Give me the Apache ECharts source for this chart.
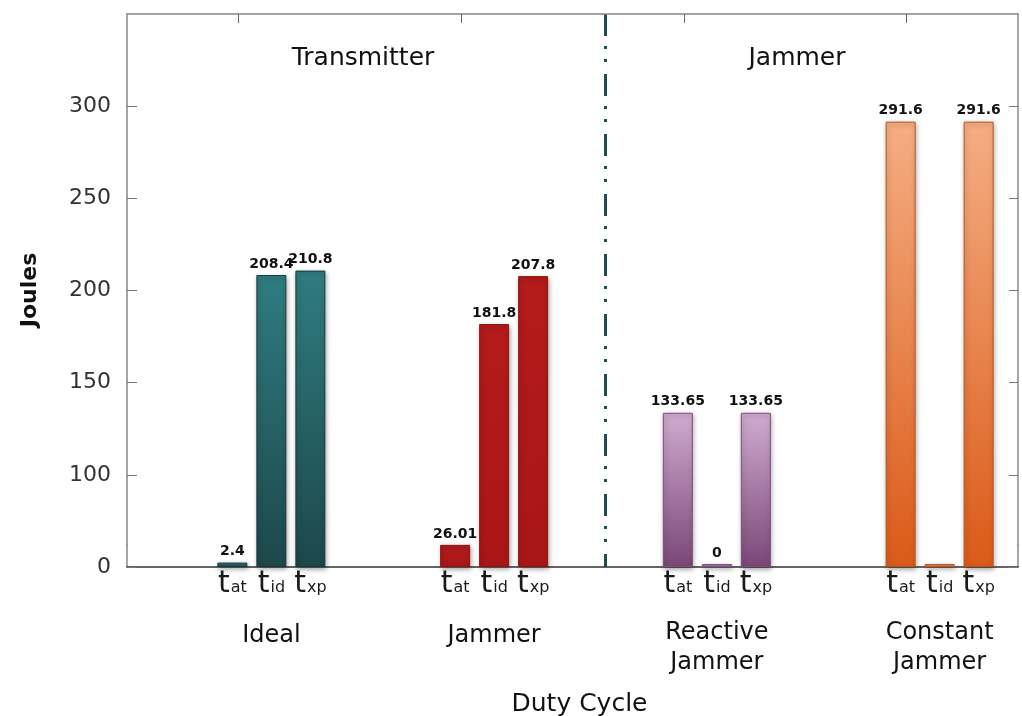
<!DOCTYPE html>
<html>
<head>
<meta charset="utf-8">
<script src="https://cdn.jsdelivr.net/npm/echarts@6/dist/echarts.min.js"></script>
<style>
  html, body { margin: 0; padding: 0; background: #ffffff; }
  #chart { width: 1022px; height: 716px; }
</style>
</head>
<body>
<div id="chart"></div>
<script>
// Energy spent per duty-cycle state (Joules)
const groups = ['Ideal', 'Jammer', 'Reactive\nJammer', 'Constant\nJammer'];
const sections = ['Transmitter', 'Jammer'];
const tAt = [2.4, 26.01, 133.65, 291.6];
const tId = [208.4, 181.8, 0, 0];
const tXp = [210.8, 207.8, 133.65, 291.6];
// value labels printed above the bars (the constant jammer's idle bar carries none)
const labelShown = {
  at: [true, true, true, true],
  id: [true, true, true, false],
  xp: [true, true, true, true]
};
// labelled ticks on the energy axis
const yTicks = [0, 100, 150, 200, 250, 300];

const FONT = 'DejaVu Sans';

// per-group fill: [top, bottom, border]
const palette = [
  ['#2f7c80', '#1d474b', '#183a3d'],
  ['#b51b1b', '#a91618', '#8e1214'],
  ['#d0abd0', '#7a4778', '#7d4f7d'],
  ['#f5ae83', '#db5a18', '#b9531c']
];

function fill(g) {
  return new echarts.graphic.LinearGradient(0, 0, 0, 1, [
    { offset: 0, color: palette[g][0] },
    { offset: 1, color: palette[g][1] }
  ]);
}

// shared value scale: the stretch below 100 is compressed by an axis break
const yScale = {
  type: 'value',
  min: 0,
  max: 350,
  interval: 50,
  breaks: [{ start: 12, end: 62, gap: 0 }],
  breakArea: { show: false }
};

function stateSeries(key, values) {
  return [
    {
      // holder that prints the state name under the baseline
      type: 'bar',
      name: 't' + key + '-name',
      xAxisIndex: 1,
      yAxisIndex: 2,
      stack: key,
      barWidth: 30,
      barGap: '30%',
      silent: true,
      data: values.map(() => 0),
      itemStyle: { color: 'rgba(0,0,0,0)' },
      label: {
        show: true,
        position: 'bottom',
        distance: 2,
        formatter: '{t|t}{s|' + key + '}',
        rich: {
          t: { fontFamily: FONT, fontSize: 30, lineHeight: 30, color: '#1a1a1a', verticalAlign: 'bottom' },
          s: { fontFamily: FONT, fontSize: 16, lineHeight: 16, color: '#1a1a1a', verticalAlign: 'bottom', padding: [0, 0, 3, 1] }
        }
      }
    },
    {
      type: 'bar',
      name: 't' + key,
      xAxisIndex: 1,
      yAxisIndex: 2,
      stack: key,
      barWidth: 30,
      barGap: '30%',
      barMinHeight: 3,
      data: values.map((v, g) => ({
        value: v,
        itemStyle: { color: fill(g), borderColor: palette[g][2], borderWidth: 1 },
        label: { show: labelShown[key][g] }
      })),
      itemStyle: {
        shadowBlur: 5,
        shadowColor: 'rgba(0,0,0,0.35)',
        shadowOffsetX: 1,
        shadowOffsetY: 2
      },
      label: {
        show: true,
        position: 'top',
        distance: 4,
        fontFamily: FONT,
        fontSize: 14,
        fontWeight: 'bold',
        color: '#111'
      }
    }
  ];
}

const chart = echarts.init(document.getElementById('chart'), null, { renderer: 'canvas' });

chart.setOption({
  backgroundColor: '#ffffff',
  animation: false,
  grid: [
    { left: 127, right: 4, top: 14, bottom: 149, containLabel: false, outerBoundsMode: 'none' },
    { left: 160, right: -29, top: 14, bottom: 149, containLabel: false, outerBoundsMode: 'none' }
  ],
  xAxis: [
    {
      // frame bottom
      type: 'category',
      gridIndex: 0,
      data: groups,
      position: 'bottom',
      axisLine: { onZero: false, lineStyle: { color: '#333', width: 1.5 } },
      axisTick: { show: false },
      axisLabel: { show: false },
      name: 'Duty Cycle',
      nameLocation: 'middle',
      nameGap: 125,
      nameTextStyle: { fontFamily: FONT, fontSize: 25, color: '#111', verticalAlign: 'top', padding: [0, 0, 0, 14] }
    },
    {
      // group names under the bars
      type: 'category',
      gridIndex: 1,
      data: groups,
      axisLine: { show: false, onZero: false },
      axisTick: { show: false },
      axisLabel: {
        margin: 51,
        formatter: v => v.indexOf('\n') >= 0
          ? v.split('\n').map(l => '{m|' + l + '}').join('\n')
          : '{o|' + v + '}',
        rich: {
          m: { fontFamily: FONT, fontSize: 24, lineHeight: 30, color: '#111' },
          o: { fontFamily: FONT, fontSize: 24, lineHeight: 30, color: '#111', padding: [5, 0, 0, 0] }
        }
      },
      splitLine: { show: false }
    },
    {
      // frame top
      type: 'category',
      gridIndex: 0,
      data: groups,
      position: 'top',
      axisLine: { onZero: false, lineStyle: { color: '#888', width: 1.5 } },
      axisTick: { show: true, inside: true, alignWithLabel: true, length: 9, lineStyle: { color: '#666' } },
      axisLabel: { show: false }
    },
    {
      // transmitter / jammer halves, split by a dash-dot divider
      type: 'category',
      gridIndex: 1,
      data: sections,
      position: 'top',
      axisLine: { show: false, onZero: false },
      axisTick: { show: false },
      axisLabel: { show: false },
      splitLine: {
        show: true,
        showMinLine: false,
        showMaxLine: false,
        lineStyle: { color: '#1d4d4f', width: 3, type: [22, 10, 3, 10, 3, 12] }
      }
    }
  ],
  yAxis: [
    Object.assign({}, yScale, {
      gridIndex: 0,
      position: 'left',
      axisLine: { show: true, lineStyle: { color: '#888', width: 1.5 } },
      axisTick: { show: true, inside: true, length: 10, customValues: yTicks, lineStyle: { color: '#777' } },
      splitLine: { show: false },
      axisLabel: {
        fontFamily: FONT,
        fontSize: 22,
        color: '#333',
        margin: 16,
        customValues: yTicks
      }
    }),
    Object.assign({}, yScale, {
      gridIndex: 0,
      position: 'right',
      axisLine: { show: true, lineStyle: { color: '#888', width: 1.5 } },
      axisTick: { show: true, inside: true, length: 9, customValues: yTicks, lineStyle: { color: '#777' } },
      splitLine: { show: false },
      axisLabel: { show: false }
    }),
    Object.assign({}, yScale, {
      gridIndex: 1,
      show: false,
      splitLine: { show: false }
    })
  ],
  graphic: [
    {
      type: 'text', x: 30, y: 290, rotation: Math.PI / 2,
      style: { text: 'Joules', fontFamily: FONT, fontSize: 22, fontWeight: 'bold', fill: '#111', textAlign: 'center', textVerticalAlign: 'middle' }
    },
    {
      type: 'text', x: 363, y: 58,
      style: { text: sections[0], fontFamily: FONT, fontSize: 25, fill: '#111', textAlign: 'center', textVerticalAlign: 'middle' }
    },
    {
      type: 'text', x: 797, y: 58,
      style: { text: sections[1], fontFamily: FONT, fontSize: 25, fill: '#111', textAlign: 'center', textVerticalAlign: 'middle' }
    }
  ],
  series: [].concat(
    stateSeries('at', tAt),
    stateSeries('id', tId),
    stateSeries('xp', tXp)
  )
});
</script>
</body>
</html>
